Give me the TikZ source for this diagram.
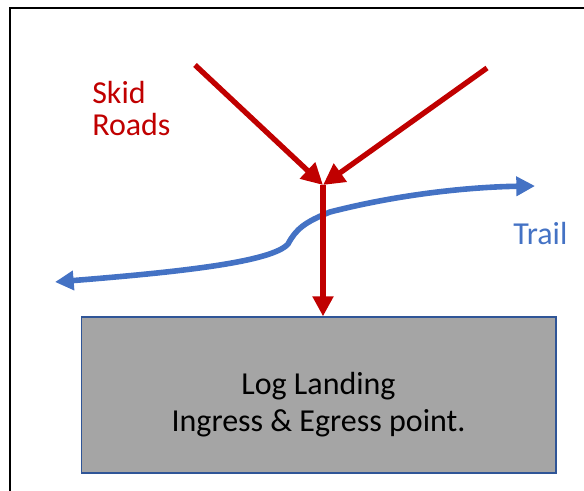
\documentclass[tikz,border=0pt]{standalone}
\usepackage{fontspec}
\setmainfont{Carlito}
\usepackage{xcolor}
\usetikzlibrary{positioning, arrows.meta}
\definecolor{skidred}{HTML}{C00000}
\definecolor{trailblue}{HTML}{4472C4}
\definecolor{landgray}{HTML}{A5A5A5}
\definecolor{landedge}{HTML}{2F5597}

\begin{document}
\begin{tikzpicture}[x=0.75pt, y=-0.75pt, every node/.style={font=\fontsize{24}{24}\selectfont}]
\useasboundingbox (0,0) rectangle (584,491);

% Frame (left and top edges only)
\draw[black, line width=1.5pt] (10,491) -- (10,8) -- (584,8);

% Log landing block
\node[draw=landedge, fill=landgray, line width=1pt, minimum width=356pt, minimum height=117pt, inner sep=0pt] (landing) at (318.5,395) {};
\node[align=center, inner sep=0pt, font=\fontsize{24}{27.75}\selectfont] (landtext) at (318.5,404.5) {Log Landing\\Ingress \& Egress point.};

% Trail (blue, both ends)
\coordinate (trailW) at (55,282);
\coordinate (trailE) at (535,186);
\draw[trailblue, line width=4.2pt, {Triangle[length=14pt,width=14pt]}-{Triangle[length=14pt,width=14pt]}]
  (trailW) .. controls (180,272) and (272,262) .. (288,244)
  .. controls (296,229) and (305,222) .. (330,212)
  .. controls (400,194) and (470,187) .. (trailE);
\node[anchor=base west, inner sep=0pt, text=trailblue] (trail) at (513,244) {Trail};

% Skid roads (red)
\coordinate (skidL) at (195,65);
\coordinate (skidR) at (487,68);
\coordinate (meet) at (323,185);
\draw[skidred, line width=4pt, -{Triangle[length=16pt,width=16pt]}] (skidL) -- (meet);
\draw[skidred, line width=4pt, -{Triangle[length=16pt,width=16pt]}] (skidR) -- (meet);
\draw[skidred, line width=4pt, -{Triangle[length=15pt,width=15pt]}] (meet) -- (meet |- landing.north);
\node[anchor=north west, align=left, inner sep=0pt, text=skidred] (skid) at (92,81) {Skid\\Roads};
\end{tikzpicture}
\end{document}
